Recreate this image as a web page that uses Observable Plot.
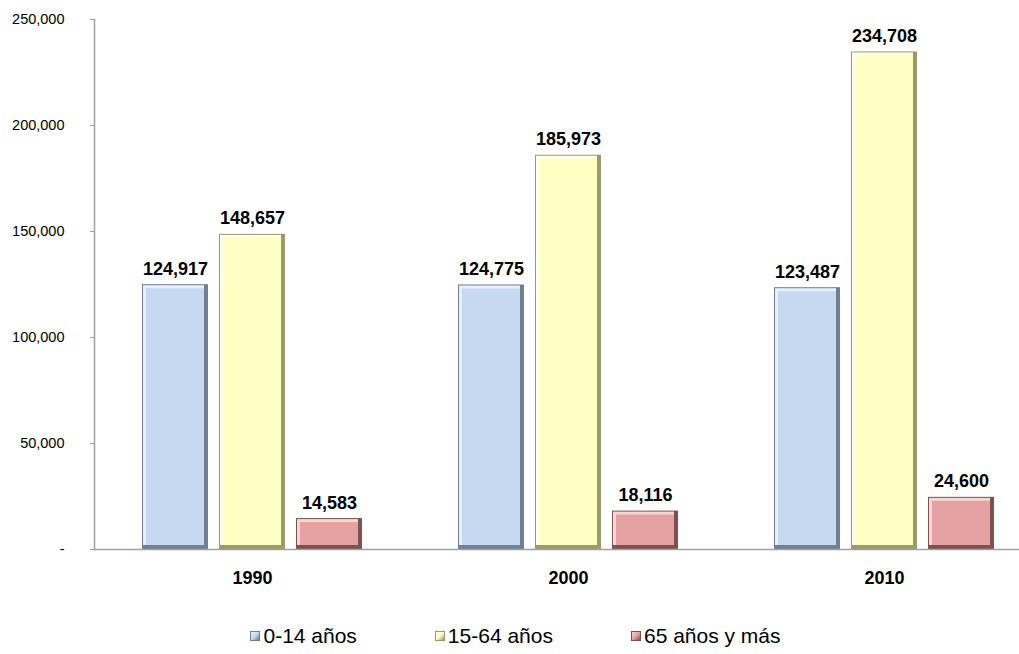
<!DOCTYPE html>
<html>
<head>
<meta charset="utf-8">
<script src="https://cdn.jsdelivr.net/npm/d3@7"></script>
<script src="https://cdn.jsdelivr.net/npm/@observablehq/plot@0.6"></script>
<style>
  body { margin: 0; background: #fff; font-family: Arial, "Liberation Sans", sans-serif; }
  #legend { display: flex; justify-content: center; gap: 78px; padding-top: 24px; font-size: 21px; color: #000; margin-left: 12px; }
  .item { display: flex; align-items: center; gap: 3px; }
  .sw { width: 10px; height: 10px; box-sizing: border-box; border: 1px solid; }
</style>
</head>
<body>
<div id="chart"></div>
<div id="legend"></div>
<script>
const years = ["1990", "2000", "2010"];
const series = ["0-14 años", "15-64 años", "65 años y más"];
const values0to14 = [124917, 124775, 123487];
const values15to64 = [148657, 185973, 234708];
const values65plus = [14583, 18116, 24600];
const yTicks = [0, 50000, 100000, 150000, 200000, 250000];

const mainColors = ["#c6d9f0", "#ffffc4", "#e6a2a2"];
const darkColors = ["#6f7f95", "#9a9a6a", "#7f5050"];
const lightColors = ["#e8f0fb", "#ffffea", "#f7d6d6"];

const seriesValues = [values0to14, values15to64, values65plus];
const data = [];
years.forEach((y, i) => series.forEach((s, j) => data.push({year: y, series: s, value: seriesValues[j][i]})));
const idx = s => series.indexOf(s);
const fmt = d3.format(",");

const plot = Plot.plot({
  width: 1019,
  height: 600,
  marginLeft: 96,
  marginRight: 0,
  marginTop: 19,
  marginBottom: 51,
  style: {fontFamily: "Arial, 'Liberation Sans', sans-serif", color: "#000", background: "#fff"},
  fx: {domain: years, range: [94, 1042], padding: 0, label: null, axis: null},
  x: {domain: series, paddingInner: 0.14, paddingOuter: 0.62, axis: null},
  y: {domain: [0, 250000], label: null},
  color: {type: "identity"},
  marks: [
    Plot.barY(data, {fx: "year", x: "series", y: "value", fill: d => darkColors[idx(d.series)]}),
    Plot.barY(data, {fx: "year", x: "series", y: "value", fill: d => lightColors[idx(d.series)], insetRight: 4, insetBottom: 4, insetTop: 1, insetLeft: 1}),
    Plot.barY(data, {fx: "year", x: "series", y: "value", fill: d => mainColors[idx(d.series)], inset: 4}),
    Plot.ruleY([0], {stroke: "#a0a0a0", strokeWidth: 1.5}),
    Plot.frame({anchor: "left", facetAnchor: "left", stroke: "#a0a0a0", strokeWidth: 1.5}),
    Plot.axisY({ticks: yTicks, tickSize: 4, tickPadding: 26, stroke: "#a0a0a0", fontSize: 14.5, tickFormat: d => d === 0 ? "-" : fmt(d), label: null}),
    Plot.axisFx({anchor: "bottom", tickSize: 0, tickPadding: 22, fontSize: 18, fontWeight: "bold", label: null}),
    Plot.text(data, {fx: "year", x: "series", y: "value", text: d => fmt(d.value), dy: -10, lineAnchor: "bottom", fontSize: 18, fontWeight: "bold", fill: "#000"})
  ]
});
document.getElementById("chart").appendChild(plot);

const legend = document.getElementById("legend");
series.forEach((s, j) => {
  const item = document.createElement("div");
  item.className = "item";
  const sw = document.createElement("span");
  sw.className = "sw";
  sw.style.background = `linear-gradient(135deg, ${lightColors[j]}, ${mainColors[j]} 50%, ${darkColors[j]})`;
  sw.style.borderColor = darkColors[j];
  const t = document.createElement("span");
  t.textContent = s;
  item.appendChild(sw);
  item.appendChild(t);
  legend.appendChild(item);
});
</script>
</body>
</html>
